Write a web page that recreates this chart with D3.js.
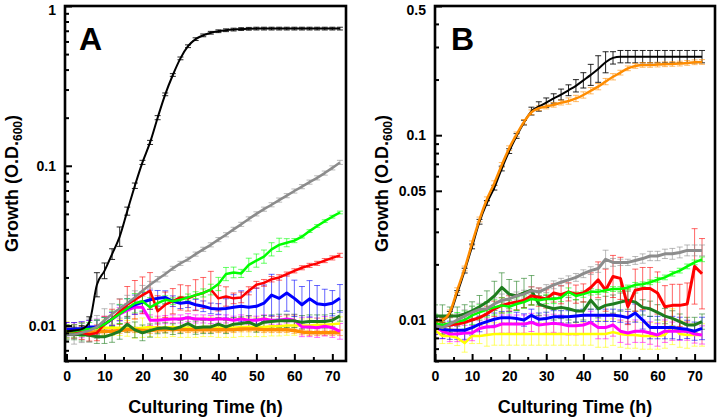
<!DOCTYPE html>
<html>
<head>
<meta charset="utf-8">
<script src="https://cdn.jsdelivr.net/npm/d3@7"></script>
<style>
  body { margin: 0; background: #fff; }
  text { font-family: "Liberation Sans", Arial, sans-serif; font-weight: bold; }
</style>
</head>
<body>
<svg id="chart" width="717" height="418"></svg>
<script>
// sampling times (h)
const hours = [0,2,4,6,8,10,12,14,16,18,20,22,24,26,28,30,32,34,36,38,40,42,44,46,48,50,52,54,56,58,60,62,64,66,68,70,72];

// ---- panel A : O.D.600 means
const aBlack   = [0.0092,0.0093,0.0095,0.0105,0.018,0.022,0.028,0.036,0.052,0.075,0.105,0.14,0.20,0.28,0.37,0.47,0.56,0.62,0.655,0.68,0.695,0.705,0.712,0.717,0.72,0.722,0.722,0.722,0.722,0.722,0.722,0.722,0.722,0.722,0.722,0.722,0.722];
const aGray    = [0.0088,0.0088,0.009,0.0093,0.0098,0.0108,0.0118,0.0128,0.0138,0.015,0.0165,0.018,0.0195,0.021,0.0228,0.0245,0.026,0.028,0.030,0.032,0.0345,0.037,0.040,0.043,0.0465,0.050,0.0535,0.057,0.061,0.065,0.0695,0.074,0.079,0.084,0.090,0.097,0.105];
const aGreen   = [0.0092,0.0092,0.0094,0.0095,0.0097,0.0102,0.011,0.0118,0.0128,0.0138,0.0142,0.013,0.0138,0.0145,0.0142,0.0145,0.015,0.0155,0.016,0.0168,0.0182,0.021,0.0215,0.0212,0.024,0.0255,0.027,0.030,0.032,0.033,0.034,0.036,0.039,0.042,0.045,0.048,0.051];
const aRed     = [0.0092,0.0092,0.009,0.0088,0.009,0.0102,0.011,0.0122,0.0135,0.0145,0.0155,0.0165,0.0123,0.0135,0.0142,0.015,0.0148,0.0155,0.016,0.0168,0.0148,0.0152,0.0148,0.015,0.0165,0.018,0.0185,0.0195,0.020,0.021,0.022,0.023,0.0238,0.0245,0.0255,0.0265,0.0275];
const aBlue    = [0.0095,0.0095,0.0096,0.0098,0.0098,0.0102,0.011,0.012,0.0128,0.0135,0.014,0.0145,0.0148,0.015,0.0142,0.0138,0.014,0.0135,0.0132,0.0128,0.0127,0.0128,0.013,0.0132,0.013,0.0132,0.0138,0.0155,0.0148,0.016,0.0148,0.0135,0.0147,0.0137,0.0135,0.0138,0.0148];
const aMagenta = [0.0095,0.0093,0.0094,0.0096,0.0098,0.0102,0.011,0.0118,0.0125,0.013,0.013,0.0108,0.0108,0.0109,0.011,0.011,0.0112,0.011,0.011,0.0109,0.011,0.011,0.0108,0.011,0.0108,0.0108,0.011,0.0108,0.0108,0.011,0.0108,0.0098,0.0098,0.0097,0.0099,0.0097,0.0092];
const aDkGreen = [0.0088,0.0088,0.0088,0.0087,0.0085,0.0085,0.0088,0.0092,0.0102,0.0094,0.009,0.0093,0.0096,0.0097,0.0095,0.0098,0.0103,0.0097,0.0098,0.0098,0.0102,0.0098,0.0102,0.0103,0.0105,0.010,0.0105,0.0106,0.0107,0.0107,0.0107,0.0105,0.0106,0.0106,0.0106,0.0108,0.0115];
const aYellow  = [0.0096,0.0095,0.0095,0.0096,0.0096,0.0097,0.0097,0.0097,0.0096,0.0096,0.0097,0.0098,0.0097,0.0097,0.0098,0.0097,0.0097,0.0097,0.0098,0.0098,0.0097,0.0097,0.0097,0.0098,0.0098,0.0098,0.0098,0.0099,0.0099,0.0100,0.0100,0.0100,0.0100,0.0101,0.0101,0.0102,0.0103];
const aOrange  = [0.0092,0.0092,0.0092,0.0091,0.0091,0.0092,0.0092,0.0093,0.0094,0.0094,0.0093,0.0093,0.0094,0.0094,0.0095,0.0094,0.0094,0.0094,0.0094,0.0094,0.0094,0.0094,0.0094,0.0095,0.0095,0.0095,0.0094,0.0094,0.0094,0.0094,0.0093,0.0091,0.009,0.009,0.009,0.009,0.009];

// panel A : relative error (fraction of mean)
const eaBlack   = [.05,.05,.05,.08,.19,.12,.08,.15,.06,.04,.03,.03,.03,.02,.02,.02,.02,.02,.02,.02,.02,.02,.02,.02,.02,.02,.02,.02,.02,.02,.02,.02,.02,.02,.02,.02,.02];
const eaGray    = [.12,.15,.15,.18,.18,.18,.16,.15,.12,.1,.08,.05,.04,.03,.03,.03,.03,.03,.03,.03,.03,.03,.03,.03,.03,.03,.03,.03,.03,.03,.03,.03,.03,.03,.03,.03,.03];
const eaGreen   = [.1,.1,.1,.1,.12,.1,.12,.15,.15,.15,.15,.15,.08,.06,.05,.05,.05,.05,.06,.08,.1,.1,.08,.06,.1,.1,.1,.1,.1,.06,.03,.02,.02,.02,.02,.02,.02];
const eaRed     = [.1,.1,.1,.1,.12,.12,.15,.2,.3,.32,.3,.3,.25,.2,.2,.2,.2,.25,.25,.3,.2,.15,.08,.08,.06,.05,.05,.04,.04,.03,.03,.03,.03,.03,.03,.03,.03];
const eaBlue    = [.1,.1,.1,.1,.1,.1,.1,.12,.15,.15,.15,.15,.12,.1,.08,.08,.08,.08,.08,.08,.08,.15,.2,.25,.25,.3,.3,.35,.35,.3,.3,.3,.3,.3,.25,.2,.22];
const eaMagenta = [.1,.12,.12,.12,.12,.12,.1,.1,.1,.1,.1,.08,.06,.06,.06,.06,.06,.06,.06,.06,.06,.06,.06,.06,.06,.06,.06,.06,.06,.06,.08,.15,.15,.15,.15,.15,.12];
const eaDkGreen = [.08,.08,.1,.1,.1,.1,.12,.12,.12,.12,.12,.1,.08,.08,.08,.1,.1,.1,.1,.1,.1,.1,.1,.1,.1,.1,.1,.1,.1,.1,.1,.1,.1,.1,.1,.1,.08];
const eaYellow  = [.1,.1,.1,.12,.12,.12,.12,.12,.12,.15,.15,.15,.15,.15,.15,.15,.15,.15,.15,.15,.15,.15,.15,.15,.15,.15,.15,.15,.15,.15,.15,.1,.1,.1,.1,.1,.1];
const eaOrange  = [.04,.04,.04,.04,.04,.04,.04,.04,.04,.04,.04,.04,.04,.04,.04,.04,.04,.04,.04,.04,.04,.04,.04,.04,.04,.04,.04,.04,.04,.04,.04,.04,.04,.04,.04,.04,.04];

// ---- panel B : O.D.600 means
const bBlack   = [0.0100,0.0100,0.0108,0.014,0.0185,0.025,0.034,0.043,0.052,0.066,0.082,0.099,0.117,0.135,0.143,0.150,0.158,0.166,0.175,0.185,0.198,0.212,0.228,0.248,0.262,0.266,0.266,0.266,0.266,0.266,0.266,0.266,0.266,0.266,0.266,0.266,0.266];
const bOrange  = [0.0098,0.0100,0.011,0.0145,0.019,0.026,0.035,0.045,0.055,0.069,0.085,0.101,0.118,0.133,0.140,0.143,0.146,0.150,0.153,0.158,0.165,0.174,0.183,0.195,0.207,0.218,0.230,0.237,0.240,0.240,0.241,0.242,0.243,0.244,0.246,0.248,0.249];
const bGray    = [0.0093,0.0091,0.0095,0.0100,0.0105,0.011,0.0114,0.0115,0.0122,0.0128,0.013,0.0135,0.0138,0.0144,0.0142,0.0148,0.0155,0.016,0.0165,0.017,0.0178,0.0185,0.019,0.0213,0.0205,0.0205,0.0205,0.021,0.0215,0.0222,0.0222,0.0228,0.0228,0.0232,0.0238,0.0238,0.0238];
const bGreen   = [0.0096,0.0094,0.0096,0.0098,0.0100,0.0106,0.011,0.0114,0.0117,0.0120,0.0118,0.0122,0.0125,0.013,0.0128,0.013,0.013,0.0132,0.0142,0.0135,0.0138,0.0142,0.0142,0.0145,0.0147,0.0147,0.015,0.0155,0.0156,0.016,0.0165,0.017,0.0178,0.0185,0.0195,0.0205,0.0213];
const bRed     = [0.0095,0.0092,0.0094,0.0095,0.0097,0.0100,0.0103,0.0108,0.0115,0.012,0.0123,0.0125,0.0128,0.0135,0.0133,0.0130,0.0140,0.0137,0.0142,0.0138,0.0140,0.0150,0.0165,0.0145,0.0172,0.0168,0.0118,0.0145,0.0148,0.0148,0.014,0.0118,0.012,0.012,0.0122,0.0195,0.0178];
const bDkGreen = [0.0105,0.0105,0.0105,0.0105,0.0108,0.0112,0.0118,0.0125,0.0135,0.015,0.0138,0.0135,0.014,0.0145,0.0122,0.0118,0.0115,0.0117,0.0115,0.0112,0.0112,0.0128,0.0115,0.012,0.0122,0.0125,0.0128,0.0125,0.0117,0.0115,0.011,0.0105,0.0102,0.0098,0.0094,0.0094,0.0098];
const bBlue    = [0.0092,0.0089,0.0088,0.0088,0.0088,0.0091,0.0095,0.0098,0.0101,0.0103,0.0103,0.0102,0.0100,0.0106,0.0101,0.0102,0.0104,0.0104,0.0104,0.0105,0.0106,0.0106,0.0106,0.0106,0.0106,0.0105,0.0103,0.0109,0.0100,0.0091,0.0091,0.0091,0.0091,0.0090,0.0089,0.0087,0.0090];
const bMagenta = [0.0092,0.0087,0.0084,0.0084,0.0085,0.0085,0.0090,0.0092,0.0092,0.0095,0.0095,0.0095,0.0095,0.0097,0.0094,0.0095,0.0096,0.0095,0.0093,0.0093,0.0094,0.0097,0.0091,0.0091,0.0094,0.0087,0.0085,0.0087,0.0087,0.0085,0.0083,0.0087,0.0087,0.0087,0.0087,0.0084,0.0083];
const bYellow  = [0.0088,0.0082,0.0082,0.0080,0.0075,0.0082,0.0082,0.0083,0.0084,0.0084,0.0084,0.0084,0.0084,0.0084,0.0084,0.0084,0.0084,0.0084,0.0084,0.0084,0.0084,0.0084,0.0084,0.0084,0.0086,0.0084,0.0083,0.0083,0.0082,0.0082,0.0082,0.0083,0.0092,0.0084,0.0083,0.0083,0.0083];

// panel B : relative error
const ebBlack   = [.03,.03,.03,.03,.03,.03,.03,.03,.03,.03,.03,.03,.03,.05,.06,.06,.06,.07,.07,.08,.1,.14,.18,.14,.08,.08,.08,.08,.08,.08,.08,.08,.08,.08,.08,.08,.08];
const ebOrange  = [.03,.03,.03,.03,.03,.03,.03,.03,.03,.03,.03,.03,.03,.03,.03,.03,.03,.03,.04,.04,.04,.04,.04,.04,.04,.03,.03,.03,.03,.03,.03,.03,.03,.03,.03,.03,.03];
const ebGray    = [.08,.08,.08,.08,.08,.08,.08,.08,.08,.08,.06,.05,.05,.05,.05,.05,.05,.05,.05,.05,.05,.05,.05,.12,.05,.04,.04,.05,.06,.06,.06,.06,.07,.07,.07,.07,.07];
const ebGreen   = [.12,.12,.12,.12,.12,.12,.1,.1,.1,.1,.08,.08,.08,.08,.06,.06,.06,.05,.05,.05,.04,.04,.03,.03,.03,.03,.03,.03,.03,.03,.03,.03,.03,.03,.03,.03,.03];
const ebRed     = [.1,.1,.1,.1,.1,.1,.1,.1,.1,.1,.1,.1,.1,.12,.12,.12,.12,.12,.12,.12,.12,.2,.25,.3,.3,.3,.25,.3,.3,.3,.3,.3,.3,.3,.3,.6,.55];
const ebDkGreen = [.15,.15,.12,.12,.12,.12,.15,.15,.2,.2,.2,.2,.2,.2,.15,.15,.15,.15,.15,.15,.12,.12,.12,.12,.12,.12,.12,.12,.1,.1,.1,.1,.1,.1,.1,.1,.1];
const ebBlue    = [.1,.12,.12,.12,.12,.1,.1,.08,.08,.08,.08,.08,.08,.08,.08,.08,.08,.08,.08,.08,.08,.08,.08,.08,.08,.08,.08,.12,.12,.15,.15,.15,.15,.15,.12,.12,.15];
const ebMagenta = [.1,.1,.1,.1,.1,.1,.1,.1,.1,.12,.12,.12,.12,.12,.12,.12,.12,.12,.12,.12,.12,.15,.15,.15,.15,.15,.15,.15,.15,.15,.15,.15,.12,.12,.12,.12,.12];
const ebYellow  = [.1,.1,.1,.1,.12,.1,.1,.15,.15,.15,.15,.15,.15,.15,.15,.15,.15,.15,.15,.15,.15,.15,.18,.18,.18,.18,.18,.18,.18,.18,.18,.18,.25,.18,.18,.15,.15];

// tick labels
const xMajorTicks = [0,10,20,30,40,50,60,70];
const xMinorTicks = [5,15,25,35,45,55,65];
const aYTicks = [1, 0.1, 0.01];
const bYTicks = [0.5, 0.1, 0.05, 0.01];

const colors = {
  black: "#000000", gray: "#8c8c8c", green: "#00ff00", red: "#ff0000",
  blue: "#0000ff", magenta: "#ff00ff", dkgreen: "#1e7d1e", yellow: "#ffff00", orange: "#ff8c00"
};

const svg = d3.select("#chart");

function drawPanel(p) {
  const x = d3.scaleLinear().domain(p.xDomain).range([p.left, p.right]);
  const y = d3.scaleLog().domain(p.yDomain).range([p.bottom, p.top]);

  svg.append("clipPath").attr("id", "clip-" + p.id)
    .append("rect")
    .attr("x", p.left).attr("y", p.top)
    .attr("width", p.right - p.left).attr("height", p.bottom - p.top);

  const plot = svg.append("g").attr("clip-path", `url(#clip-${p.id})`);

  // error bars first so the means sit on top
  p.series.forEach(s => {
    const pts = s.values.map((v, i) => ({ t: hours[i], v: v, e: s.err[i] }));
    const eg = plot.append("g")
      .attr("stroke", s.color)
      .attr("stroke-opacity", s.color === "#000000" ? 0.85 : 0.6)
      .attr("stroke-width", 1);
    eg.selectAll(".bar").data(pts).enter().append("line")
      .attr("x1", d => x(d.t)).attr("x2", d => x(d.t))
      .attr("y1", d => y(d.v / (1 + d.e))).attr("y2", d => y(d.v * (1 + d.e)));
    eg.selectAll(".capTop").data(pts).enter().append("line")
      .attr("x1", d => x(d.t) - 3).attr("x2", d => x(d.t) + 3)
      .attr("y1", d => y(d.v * (1 + d.e))).attr("y2", d => y(d.v * (1 + d.e)));
    eg.selectAll(".capBot").data(pts).enter().append("line")
      .attr("x1", d => x(d.t) - 3).attr("x2", d => x(d.t) + 3)
      .attr("y1", d => y(d.v / (1 + d.e))).attr("y2", d => y(d.v / (1 + d.e)));
  });

  p.series.forEach(s => {
    const line = d3.line()
      .x((d, i) => x(hours[i]))
      .y(d => y(d))
      .curve(s.smooth ? d3.curveMonotoneX : d3.curveLinear);
    plot.append("path")
      .datum(s.values)
      .attr("fill", "none")
      .attr("stroke", s.color)
      .attr("stroke-width", s.width)
      .attr("stroke-linejoin", "round")
      .attr("d", line);
  });

  // axes, ticks point inward
  const yMajor = svg.append("g")
    .attr("transform", `translate(${p.left},0)`)
    .call(d3.axisLeft(y).tickValues(p.yTicks).tickSize(-7).tickPadding(9).tickFormat(d3.format("")));
  const yMinor = svg.append("g")
    .attr("transform", `translate(${p.left},0)`)
    .call(d3.axisLeft(y).tickValues(p.yMinor).tickSize(-4).tickFormat(""));
  const xMajor = svg.append("g")
    .attr("transform", `translate(0,${p.bottom})`)
    .call(d3.axisBottom(x).tickValues(xMajorTicks).tickSize(-7).tickPadding(10));
  const xMinor = svg.append("g")
    .attr("transform", `translate(0,${p.bottom})`)
    .call(d3.axisBottom(x).tickValues(xMinorTicks).tickSize(-4).tickFormat(""));

  [yMajor, yMinor, xMajor, xMinor].forEach(a => {
    a.select(".domain").remove();
    a.selectAll(".tick line").attr("stroke", "#000").attr("stroke-width", 2);
    a.selectAll("text").attr("font-size", 14).attr("fill", "#000")
      .style("font-family", "'Liberation Sans', Arial, sans-serif").style("font-weight", "bold");
  });
  // the top label sits a touch below its tick so it stays inside the page
  yMajor.selectAll(".tick text").filter(d => d === p.yTicks[0]).attr("dy", "0.62em");

  // frame
  svg.append("rect")
    .attr("x", p.left).attr("y", p.top)
    .attr("width", p.right - p.left).attr("height", p.bottom - p.top)
    .attr("fill", "none").attr("stroke", "#000").attr("stroke-width", 2.6);

  // panel letter
  svg.append("text")
    .attr("x", p.left + p.letterDx).attr("y", p.top + 44)
    .attr("font-size", 32)
    .text(p.letter);

  // x label
  svg.append("text")
    .attr("x", (p.left + p.right) / 2).attr("y", 413)
    .attr("text-anchor", "middle")
    .attr("font-size", 18)
    .text("Culturing Time (h)");

  // y label with subscript
  const yl = svg.append("text")
    .attr("transform", `translate(${p.left - 47},${(p.top + p.bottom) / 2}) rotate(-90)`)
    .attr("text-anchor", "middle")
    .attr("font-size", 18);
  yl.append("tspan").text("Growth (O.D.");
  yl.append("tspan").attr("font-size", 12).attr("dy", 4).text("600");
  yl.append("tspan").attr("dy", -4).text(")");
}

drawPanel({
  id: "A", letter: "A", letterDx: 14,
  left: 65, right: 346, top: 6, bottom: 361,
  xDomain: [-0.4, 73.6], yDomain: [0.006, 1],
  yTicks: aYTicks,
  yMinor: [0.006,0.007,0.008,0.009,0.02,0.03,0.04,0.05,0.06,0.07,0.08,0.09,0.2,0.3,0.4,0.5,0.6,0.7,0.8,0.9],
  series: [
    { values: aYellow,  err: eaYellow,  color: colors.yellow,  width: 2.5 },
    { values: aOrange,  err: eaOrange,  color: colors.orange,  width: 3.5 },
    { values: aMagenta, err: eaMagenta, color: colors.magenta, width: 3 },
    { values: aDkGreen, err: eaDkGreen, color: colors.dkgreen, width: 3 },
    { values: aBlue,    err: eaBlue,    color: colors.blue,    width: 3 },
    { values: aRed,     err: eaRed,     color: colors.red,     width: 2.5 },
    { values: aGreen,   err: eaGreen,   color: colors.green,   width: 2.5 },
    { values: aGray,    err: eaGray,    color: colors.gray,    width: 2.5 },
    { values: aBlack,   err: eaBlack,   color: colors.black,   width: 2, smooth: true }
  ]
});

drawPanel({
  id: "B", letter: "B", letterDx: 16,
  left: 435, right: 715, top: 6, bottom: 361,
  xDomain: [0, 75.5], yDomain: [0.006, 0.5],
  yTicks: bYTicks,
  yMinor: [0.006,0.007,0.008,0.009,0.02,0.03,0.04,0.06,0.07,0.08,0.09,0.2,0.3,0.4],
  series: [
    { values: bYellow,  err: ebYellow,  color: colors.yellow,  width: 2.5 },
    { values: bMagenta, err: ebMagenta, color: colors.magenta, width: 3 },
    { values: bBlue,    err: ebBlue,    color: colors.blue,    width: 3 },
    { values: bDkGreen, err: ebDkGreen, color: colors.dkgreen, width: 3 },
    { values: bRed,     err: ebRed,     color: colors.red,     width: 3 },
    { values: bGreen,   err: ebGreen,   color: colors.green,   width: 2.5 },
    { values: bGray,    err: ebGray,    color: colors.gray,    width: 3 },
    { values: bBlack,   err: ebBlack,   color: colors.black,   width: 2, smooth: true },
    { values: bOrange,  err: ebOrange,  color: colors.orange,  width: 2.5, smooth: true }
  ]
});
</script>
</body>
</html>
